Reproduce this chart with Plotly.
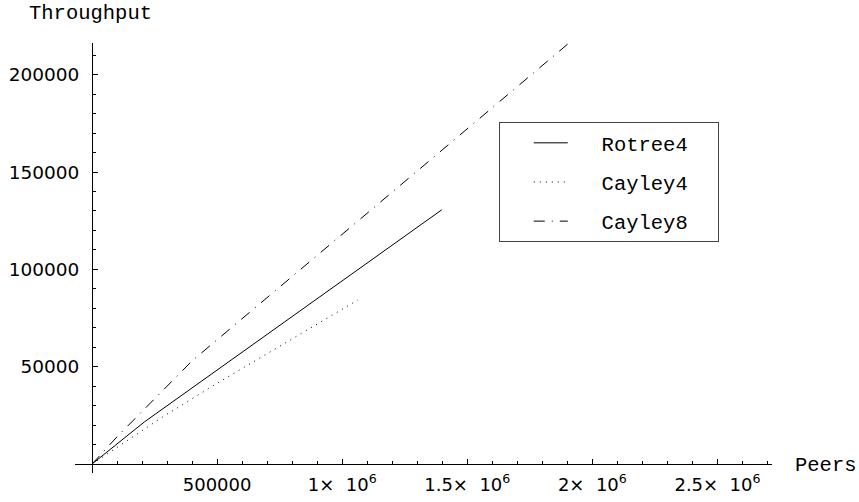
import plotly.graph_objects as go

# ---- data ----
series_names = ["Rotree4", "Cayley4", "Cayley8"]
rotree4_x = [0, 210000, 1398000]
rotree4_y = [0, 21700, 130600]
cayley4_x = [0, 280000, 504000, 1063000]
cayley4_y = [0, 24000, 41800, 84300]
cayley8_x = [0, 100000, 400000, 1903000]
cayley8_y = [0, 14000, 53000, 215900]

x_tickvals = [500000, 1000000, 1500000, 2000000, 2500000]
x_ticktext = ["500000", "1×\u00a0 10<sup>6</sup>", "1.5×\u00a0 10<sup>6</sup>",
              "2×\u00a0 10<sup>6</sup>", "2.5×\u00a0 10<sup>6</sup>"]
y_tickvals = [50000, 100000, 150000, 200000]
y_ticktext = ["50000", "100000", "150000", "200000"]

x_range = [-68000, 2718000]
y_range = [-4600, 216300]

mono = "Liberation Mono, Courier New, monospace"
sans = "DejaVu Sans, sans-serif"

fig = go.Figure()
styles = [
    dict(color="black", width=1, dash="solid"),
    dict(color="black", width=1, dash="1px,5px"),
    dict(color="black", width=1, dash="11px,7px,1px,7px"),
]
datas = [(rotree4_x, rotree4_y), (cayley4_x, cayley4_y), (cayley8_x, cayley8_y)]
pad = '<span style="font-size:24px">\u00a0\u00a0</span>'
for i, (name, (xs, ys), st) in enumerate(zip(series_names, datas, styles)):
    fig.add_trace(go.Scatter(
        x=xs, y=ys, mode="lines", name=pad + name + "\u00a0\u00a0",
        line=st, legendgroup=name, hoverinfo="skip"))

W, H = 859, 502
ml, mr, mt, mb = 75, 87.3, 43, 29
pw = W - ml - mr
ph = H - mt - mb

fig.update_layout(
    width=W, height=H,
    margin=dict(l=ml, r=mr, t=mt, b=mb, pad=0, autoexpand=False),
    paper_bgcolor="white", plot_bgcolor="white",
    showlegend=True,
    legend=dict(
        x=(499 - ml) / pw, y=1 - (122 - mt) / ph,
        xanchor="left", yanchor="top",
        bordercolor="#444", borderwidth=1,
        bgcolor="white",
        font=dict(family=mono, size=20.5, color="black"),
        itemwidth=34, tracegroupgap=9.5,
        traceorder="grouped",
        title=dict(text="\u00a0\u00a0", side="left",
                   font=dict(family=mono, size=15.5)),
    ),
    xaxis=dict(
        range=x_range, anchor="free", automargin=False,
        position=(0 - y_range[0]) / (y_range[1] - y_range[0]),
        showgrid=False, zeroline=False,
        showline=True, linecolor="black", linewidth=1,
        ticks="inside", ticklen=5, tickcolor="black", tickwidth=1,
        tickvals=x_tickvals, ticktext=x_ticktext,
        tickfont=dict(family=sans, size=18, color="black"),
        ticklabelstandoff=4,
        minor=dict(ticks="inside", ticklen=3, dtick=100000,
                   tickcolor="black", tickwidth=1, showgrid=False),
    ),
    yaxis=dict(
        range=y_range, anchor="free", automargin=False,
        position=(0 - x_range[0]) / (x_range[1] - x_range[0]),
        showgrid=False, zeroline=False,
        showline=True, linecolor="black", linewidth=1,
        ticks="inside", ticklen=5, tickcolor="black", tickwidth=1,
        tickvals=y_tickvals, ticktext=y_ticktext,
        tickfont=dict(family=sans, size=18.5, color="black"),
        ticklabelstandoff=9,
        minor=dict(ticks="inside", ticklen=3, dtick=10000,
                   tickcolor="black", tickwidth=1, showgrid=False),
    ),
    annotations=[
        dict(text="Throughput", xref="paper", yref="paper",
             x=(27 - ml) / pw, y=1 + (mt - 13) / ph,
             xanchor="left", yanchor="middle", showarrow=False,
             font=dict(family=mono, size=20.5, color="black")),
        dict(text="Peers", xref="paper", yref="paper",
             x=(793 - ml) / pw, y=(H - mb - 465) / ph,
             xanchor="left", yanchor="middle", showarrow=False,
             font=dict(family=mono, size=20.5, color="black")),
    ],
)

fig.write_html(
    "out.html",
    config={"displayModeBar": False, "staticPlot": True},
    post_script="document.body.style.margin='0';document.body.style.overflow='hidden';",
)
